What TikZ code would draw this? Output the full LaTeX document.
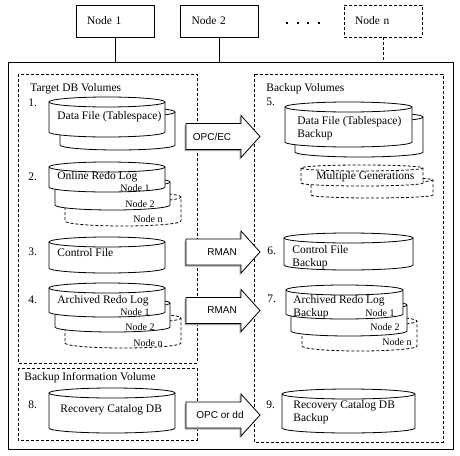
\documentclass[tikz,border=0pt]{standalone}
\usepackage{fontspec}
\setmainfont{Liberation Serif}
\newfontfamily\arrowfont{Liberation Sans}
\usetikzlibrary{calc}
\tikzset{
	dsh/.style={dash pattern=on 3pt off 2pt},
	hostbox/.style={draw, minimum height=32pt, text width=56pt, inner xsep=11pt, inner ysep=0pt, align=left},
	lbl/.style={anchor=west, inner sep=0pt, align=left},
	tag/.style={anchor=east, inner sep=0pt, font=\fontsize{10}{11}\selectfont},
	arrowlbl/.style={inner sep=0pt, font=\arrowfont\fontsize{10}{12}\selectfont},
}
% cylinder: [style]{x1}{ytop}{x2}{ybottom}
\def\drumry{5}
\newcommand{\dbdrum}[5][]{%
	\pgfmathsetmacro{\drumrx}{(#4-#2)/2}%
	\filldraw[fill=white,#1] (#2,#3+\drumry) -- (#2,#5-\drumry)
		arc[start angle=180,end angle=0,x radius=\drumrx,y radius=\drumry]
		-- (#4,#3+\drumry)
		arc[start angle=0,end angle=-180,x radius=\drumrx,y radius=\drumry] -- cycle;
	\draw[#1] (#2,#3+\drumry) arc[start angle=180,end angle=0,x radius=\drumrx,y radius=\drumry];
}
% block arrow: {name}{ycenter}{x of label}{label}
\newcommand{\copyarrow}[4]{%
	\fill[gray!70] (184.5,#2-11.5) -- (239.5,#2-11.5) -- (239.5,#2-20.5) -- (258.5,#2+1.5) -- (239.5,#2+23.5) -- (239.5,#2+14.5) -- (184.5,#2+14.5) -- cycle;
	\filldraw[fill=white] (186,#2-13) -- (241,#2-13) -- (241,#2-21) -- (260,#2) -- (241,#2+21) -- (241,#2+13) -- (186,#2+13) -- cycle;
	\node[arrowlbl] (#1) at (#3,#2) {#4};
}

\begin{document}
\begin{tikzpicture}[x=1pt, y=-1pt, line width=0.8pt, font=\fontsize{11.5}{13}\selectfont]
\useasboundingbox[fill=white] (0,0) rectangle (460,455);

% hosts
\node[hostbox] (n1) at (115,21) {Node 1};
\node[hostbox] (n2) at (219.5,21) {Node 2};
\node[hostbox, dsh] (nn) at (383,21) {Node n};
\foreach \x in {287,297.5,308,318.5}
	\fill (\x-1,22) rectangle (\x+1,24);

% storage frame
\draw (8,62) rectangle (453,449);
\coordinate (frame) at (8,62);
\draw (n1.south) -- (n1.south |- frame);
\draw (n2.south) -- (n2.south |- frame);
\draw[dsh] (nn.south) -- (nn.south |- frame);

\draw[dsh] (18,74) rectangle (197,363);
\draw[dsh] (18,368) rectangle (197,440);
\draw[dsh] (254,74) rectangle (443,442);
\node[lbl] (tgt) at (30,89) {Target DB Volumes};
\node[lbl] (bkv) at (266,89) {Backup Volumes};
\node[lbl] (biv) at (24,378) {Backup Information Volume};

% 1. data file
\dbdrum{60}{107}{175}{150}
\dbdrum{49}{97}{165}{137}
\node[lbl] (no1) at (28,103) {1.};
\node[lbl] (df) at (57,117) {Data File (Tablespace)};

% 2. online redo log
\dbdrum[dsh]{65}{192}{181}{226}
\dbdrum{55}{177}{170}{210}
\dbdrum{49}{162}{165}{192}
\node[lbl] (no2) at (28,177) {2.};
\node[lbl] (orl) at (57,177) {Online Redo Log};
\node[tag] (orl1) at (150,188) {Node 1};
\node[tag] (orl2) at (155,204) {Node 2};
\node[tag] (orln) at (163,219) {Node n};

% 3. control file
\dbdrum{49}{237}{165}{273}
\node[lbl] (no3) at (28,252) {3.};
\node[lbl] (cf) at (57,253) {Control File};

% 4. archived redo log
\dbdrum[dsh]{65}{313}{181}{348}
\dbdrum{55}{298}{170}{332}
\dbdrum{49}{283}{165}{317}
\node[lbl] (no4) at (28,300) {4.};
\node[lbl] (arl) at (57,301) {Archived Redo Log};
\node[tag] (arl1) at (150,312) {Node 1};
\node[tag] (arl2) at (155,327) {Node 2};
\node[tag] (arln) at (163,343) {Node n};

% 8. recovery catalog
\dbdrum{49}{388}{175}{433}
\node[lbl] (no8) at (28,405) {8.};
\node[lbl] (rc) at (60,410) {Recovery Catalog DB};

% copy arrows
\copyarrow{opc}{136.5}{212}{OPC/EC}
\copyarrow{rman1}{252}{222}{RMAN}
\copyarrow{rman2}{310.5}{222}{RMAN}
\copyarrow{dd}{415}{220}{OPC or dd}

% 5. data file backup
\dbdrum{295}{112}{423}{157}
\dbdrum{285}{102}{412}{147}
\node[lbl] (no5) at (266,102) {5.};
\node[lbl] (dfb) at (297,128) {Data File (Tablespace)\\Backup};
{\def\drumry{3}
\dbdrum[dsh]{311}{177}{433}{198}
\dbdrum[dsh]{301}{165}{423}{186}}
\node[lbl] (gen) at (316,177) {Multiple Generations};

% 6. control file backup
\dbdrum{284}{233}{413}{270}
\node[lbl] (no6) at (267,251) {6.};
\node[lbl] (cfb) at (292,257.5) {Control File\\Backup};

% 7. archived redo log backup
\dbdrum[dsh]{302}{316}{417}{351}
\dbdrum{291}{300}{407}{336}
\dbdrum{286}{285}{403}{319}
\node[lbl] (no7) at (267,299) {7.};
\node[lbl] (arlb) at (293,307.5) {Archived Redo Log\\Backup};
\node[tag] (arlb1) at (395,313) {Node 1};
\node[tag] (arlb2) at (400,327) {Node 2};
\node[tag] (arlbn) at (412,342) {Node n};

% 9. recovery catalog backup
\dbdrum{282}{389}{415}{433}
\node[lbl] (no9) at (266,405) {9.};
\node[lbl] (rcb) at (293,412) {Recovery Catalog DB\\Backup};
\end{tikzpicture}
\end{document}
